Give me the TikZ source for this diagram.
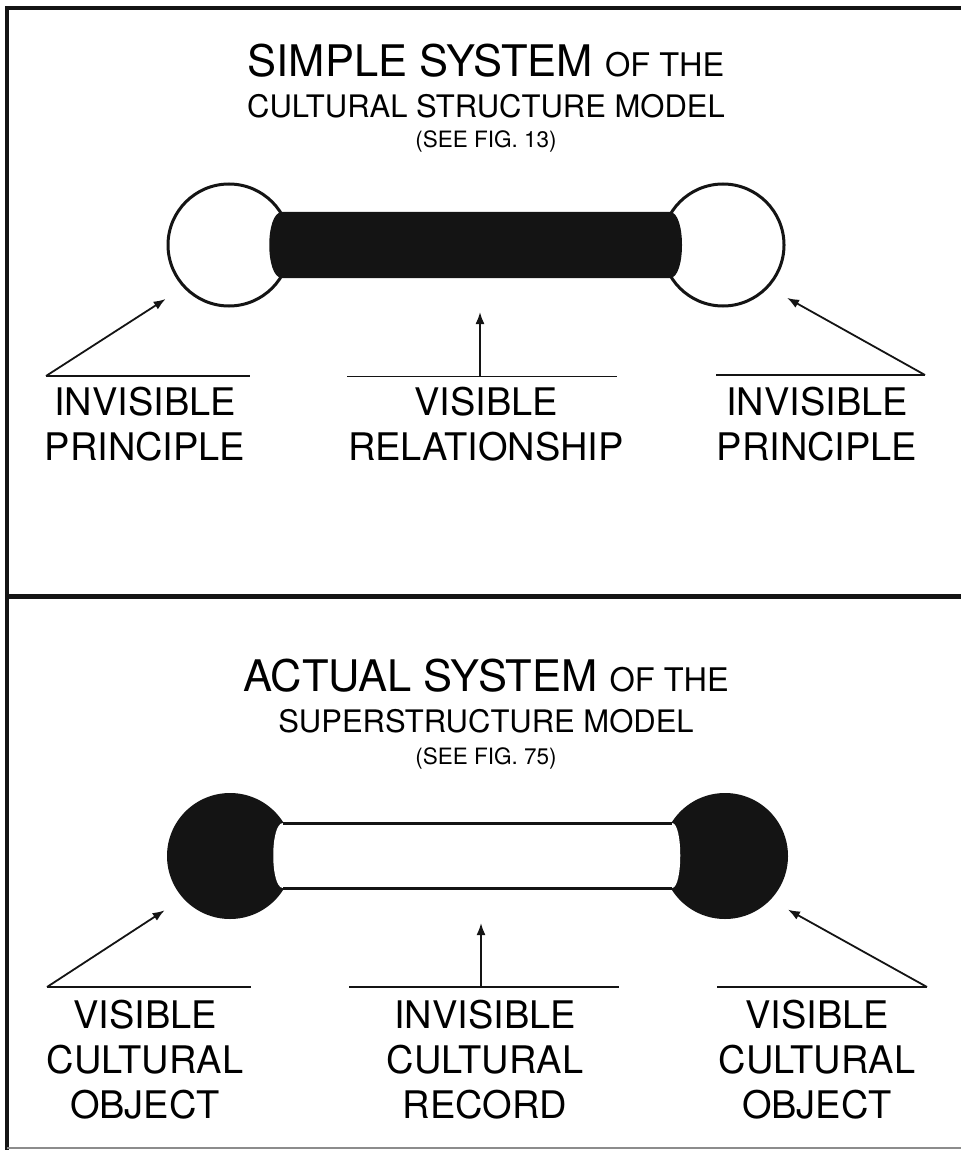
\documentclass[tikz,border=0pt]{standalone}
\usepackage{fontspec}
\setmainfont{TeX Gyre Heros}
\usetikzlibrary{arrows.meta}
\definecolor{ink}{RGB}{20,20,20}
\definecolor{edge}{RGB}{140,140,140}
\tikzset{
  >={Latex[length=12pt,width=9pt]},
  rim/.style={draw=ink,line width=4pt},
  pointer/.style={->,draw=ink,line width=1.8pt},
  rulebar/.style={draw=ink,line width=1.8pt},
  bead/.style={circle,draw=ink,line width=3pt,fill=white,minimum size=122pt,inner sep=0pt},
  solid bead/.style={circle,fill=ink,minimum size=126pt,inner sep=0pt},
  head/.style={anchor=base,inner sep=0pt,font=\fontsize{43.5}{50}\selectfont},
  subhead/.style={anchor=base,inner sep=0pt,font=\fontsize{31}{36}\selectfont},
  seefig/.style={anchor=base,inner sep=0pt,font=\fontsize{22.5}{27}\selectfont},
  tag/.style={anchor=north,inner sep=0pt,align=center,font=\fontsize{38}{45}\selectfont},
}

\begin{document}
\begin{tikzpicture}[x=1pt,y=-1pt]
  \useasboundingbox (0,0) rectangle (961,1150);
  \draw[rim] (7,1150) -- (7,8) -- (961,8);
  \draw[rim,line width=5pt] (7,596) -- (961,596);
  \draw[edge,line width=1.5pt] (7,1148) -- (961,1148);

  % simple system
  \node[head] (ttlA) at (486,77) {SIMPLE SYSTEM {\fontsize{32.5}{36}\selectfont OF THE}};
  \node[subhead] (subA) at (486,118) {CULTURAL STRUCTURE MODEL};
  \node[seefig] (figA) at (486,148) {(SEE FIG. 13)};
  \node[bead] (lpA) at (229,245) {};
  \node[bead] (rpA) at (723,245) {};
  \fill[ink] (282,212) -- (670,212) .. controls (686,212) and (686,278) .. (670,278)
    -- (282,278) .. controls (265,278) and (265,212) .. (282,212) -- cycle;
  \coordinate (lA) at (46,376);
  \coordinate (mA) at (480,376.5);
  \coordinate (rA) at (925,375);
  \coordinate (barA) at (480,278);
  \draw[rulebar] (lA) -- (250,376);
  \draw[rulebar] (347,376.5) -- (617,376.5);
  \draw[rulebar] (716,375) -- (rA);
  \draw[pointer,shorten >=21pt] (lA) -- (lpA.-137);
  \draw[pointer,shorten >=34pt] (mA) -- (barA);
  \draw[pointer,shorten >=21pt] (rA) -- (rpA.-43);
  \node[tag] (ipA) at (145,387) {INVISIBLE\\PRINCIPLE};
  \node[tag] (vrA) at (486,387) {VISIBLE\\RELATIONSHIP};
  \node[tag] (iqA) at (817,387) {INVISIBLE\\PRINCIPLE};

  % actual system
  \node[head] (ttlB) at (486,691) {ACTUAL SYSTEM {\fontsize{32.5}{36}\selectfont OF THE}};
  \node[subhead] (subB) at (486,732) {SUPERSTRUCTURE MODEL};
  \node[seefig] (figB) at (486,764) {(SEE FIG. 75)};
  \node[solid bead] (loB) at (230,856) {};
  \node[solid bead] (roB) at (725,856) {};
  \fill[white] (283,823) -- (672,823) .. controls (683,823) and (683,888) .. (672,888)
    -- (283,888) .. controls (270,888) and (270,823) .. (283,823) -- cycle;
  \draw[ink,line width=3pt] (283,823) -- (672,823) (283,888) -- (672,888);
  \coordinate (lB) at (47,987);
  \coordinate (mB) at (481,987);
  \coordinate (rB) at (927,987);
  \coordinate (tubeB) at (481,889);
  \draw[rulebar] (lB) -- (251,987);
  \draw[rulebar] (349,987) -- (619,987);
  \draw[rulebar] (717,987) -- (rB);
  \draw[pointer,shorten >=22pt] (lB) -- (loB.-138);
  \draw[pointer,shorten >=34pt] (mB) -- (tubeB);
  \draw[pointer,shorten >=20pt] (rB) -- (roB.-44);
  \node[tag] (vcB) at (145,1000) {VISIBLE\\CULTURAL\\OBJECT};
  \node[tag] (icB) at (485,1000) {INVISIBLE\\CULTURAL\\RECORD};
  \node[tag] (vdB) at (817,1000) {VISIBLE\\CULTURAL\\OBJECT};
\end{tikzpicture}
\end{document}
